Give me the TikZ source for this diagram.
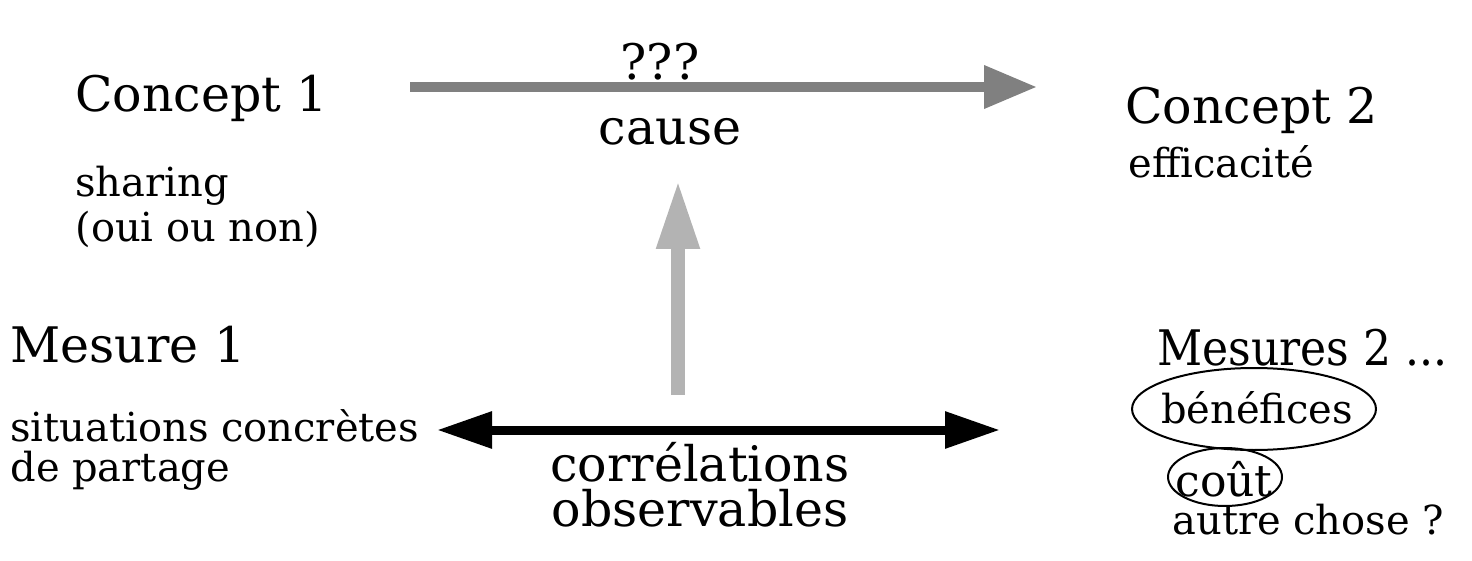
\documentclass[tikz,border=0pt]{standalone}
\usepackage{fontspec}
\setmainfont{DejaVu Serif}
\usetikzlibrary{arrows.meta,shapes.geometric}
\definecolor{arrgray}{HTML}{808080}
\definecolor{arrlight}{HTML}{B3B3B3}
\tikzset{
  lab/.style={inner sep=0pt, font=\fontsize{24.5pt}{27pt}\selectfont},
  body/.style={inner sep=0pt, align=left, font=\fontsize{20pt}{22pt}\selectfont},
  oval/.style={draw, line width=1pt},
}
\begin{document}
\begin{tikzpicture}[x=0.5pt,y=-0.5pt]
\useasboundingbox (0,0) rectangle (1472,561);
% texts
\node[lab, anchor=base] (q) at (660,80) {???};
\node[lab, anchor=base west] (c1) at (75,112) {Concept 1};
\node[lab, anchor=base] (cause) at (670,145) {cause};
\node[lab, anchor=base west] (c2) at (1125,124) {Concept 2};
\node[body, anchor=base west] (eff) at (1128,178) {efficacité};
\node[body, anchor=base west, font=\fontsize{20pt}{22.5pt}\selectfont] (sh) at (75,242) {sharing\\(oui ou non)};
\node[lab, anchor=base west] (m1) at (10,362) {Mesure 1};
\node[body, anchor=base west, font=\fontsize{20pt}{20pt}\selectfont] (sit) at (10,481) {situations concrètes\\de partage};
\node[lab, anchor=base, align=center, font=\fontsize{24.5pt}{22.5pt}\selectfont] (cor) at (700,526) {corrélations\\observables};
\node[lab, anchor=base west] (m2) at (1157,365) {\scalebox{0.9}[1]{Mesures 2 ...}};
\node[body, anchor=base] (ben) at (1257,423) {bénéfices};
\node[body, anchor=base, font=\fontsize{22pt}{24pt}\selectfont] (cout) at (1224,496) {coût};
\node[body, anchor=base west] (autre) at (1172,534) {autre chose ?};
% ellipse centres
\coordinate (benC) at (1254,409);
\coordinate (coutC) at (1225,477);
\draw[oval] (benC) ellipse [x radius=61pt, y radius=20.5pt];
\draw[oval] (coutC) ellipse [x radius=28.5pt, y radius=14.5pt];
% arrow end points
\coordinate (gA) at (410,87);
\coordinate (gB) at (1037,87);
\coordinate (vA) at (678,395);
\coordinate (vB) at (678,180);
\coordinate (bA) at (437,430);
\coordinate (bB) at (1000,430);
% arrows
\draw[arrgray, line width=5pt, -{Triangle[length=26.5pt,width=20.5pt]}] (gA) -- (gB);
\draw[arrlight, line width=7pt, -{Triangle[length=34.5pt,width=20pt]}] (vA) -- (vB);
\draw[black, line width=4.5pt, {Triangle[length=27.5pt,width=17.5pt]}-{Triangle[length=27.5pt,width=17.5pt]}] (bA) -- (bB);
\end{tikzpicture}
\end{document}
